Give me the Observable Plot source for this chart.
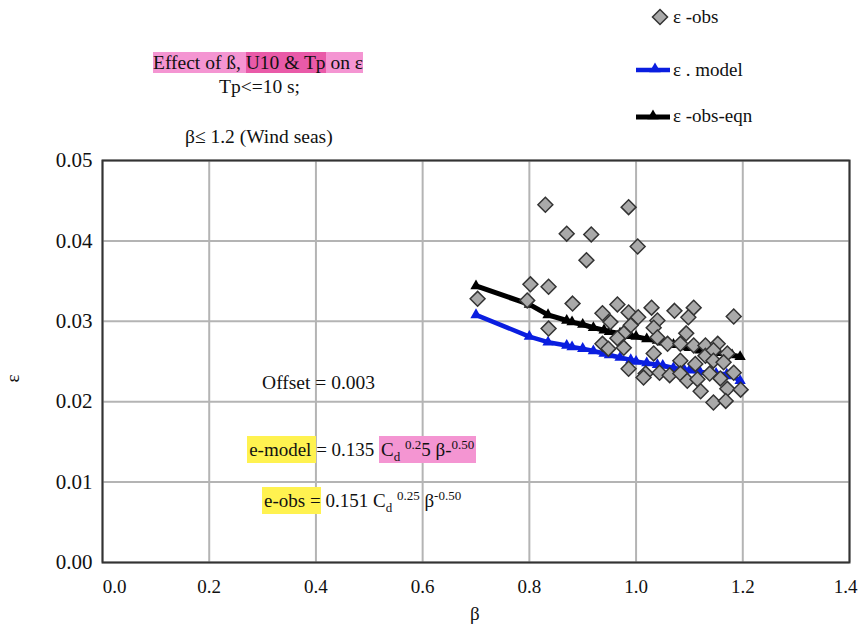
<!DOCTYPE html>
<html>
<head>
<meta charset="utf-8">
<script src="https://cdn.jsdelivr.net/npm/d3@7"></script>
<script src="https://cdn.jsdelivr.net/npm/@observablehq/plot@0.6"></script>
<style>
  html, body { margin: 0; padding: 0; background: #fff; }
  #wrap { position: relative; width: 858px; height: 631px; font-family: "Liberation Serif", "Times New Roman", serif; color: #111; }
  #wrap svg { position: absolute; left: 0; top: 0; }
  .t { position: absolute; white-space: nowrap; font-size: 19.5px; line-height: 22px; }
  .pk { background: #f495d2; }
  .pk2 { background: #e95aa8; }
  .yl { background: #fff250; }
  sub, sup { font-size: 13px; line-height: 0; }
</style>
</head>
<body>
<div id="wrap"></div>
<script>
// ---- data ----
const obsBeta = [0.830,0.986,0.870,0.916,1.003,0.907,0.802,0.836,0.703,0.796,0.881,0.965,1.029,1.072,1.108,1.183,0.937,0.986,1.004,0.952,1.040,1.098,0.836,0.990,1.033,0.977,1.094,0.937,0.965,1.040,0.977,0.948,1.059,1.083,1.108,1.130,1.153,1.033,1.130,1.145,1.171,1.083,1.111,1.145,1.164,0.986,1.018,1.044,1.063,1.083,1.014,1.096,1.138,1.115,1.183,1.158,1.171,1.196,1.121,1.145,1.168];
const obsEps  = [0.0445,0.0442,0.0409,0.0408,0.0393,0.0376,0.0346,0.0343,0.0328,0.0326,0.0322,0.0321,0.0317,0.0313,0.0317,0.0306,0.0310,0.0311,0.0305,0.0299,0.0301,0.0305,0.0291,0.0295,0.0292,0.0285,0.0285,0.0272,0.0279,0.0280,0.0267,0.0266,0.0272,0.0272,0.0270,0.0270,0.0272,0.0260,0.0257,0.0264,0.0260,0.0251,0.0247,0.0251,0.0249,0.0241,0.0235,0.0236,0.0233,0.0235,0.0230,0.0226,0.0235,0.0228,0.0236,0.0229,0.0216,0.0215,0.0213,0.0199,0.0201];

const modelBeta = [0.70,0.80,0.835,0.87,0.88,0.90,0.92,0.94,0.95,0.97,0.99,1.00,1.02,1.04,1.05,1.07,1.09,1.10,1.12,1.14,1.15,1.17,1.18,1.195];
const modelEps  = [0.0308,0.0281,0.0274,0.0270,0.0268,0.0266,0.0263,0.0260,0.0258,0.0255,0.0252,0.0250,0.0248,0.0246,0.0245,0.0242,0.0240,0.0239,0.0237,0.0236,0.0235,0.0234,0.0232,0.0226];

const eqnBeta = [0.70,0.80,0.835,0.87,0.88,0.90,0.92,0.94,0.95,0.97,0.99,1.00,1.02,1.04,1.05,1.07,1.09,1.10,1.12,1.14,1.15,1.17,1.18,1.195];
const eqnEps  = [0.0344,0.0321,0.0308,0.0301,0.0299,0.0296,0.0292,0.0289,0.0287,0.0285,0.0282,0.0281,0.0278,0.0276,0.0274,0.0271,0.0268,0.0267,0.0264,0.0262,0.0261,0.0259,0.0258,0.0256];

const xTicks = [0, 0.2, 0.4, 0.6, 0.8, 1.0, 1.2, 1.4];
const yTicks = [0, 0.01, 0.02, 0.03, 0.04, 0.05];

const obs = obsBeta.map((b, i) => ({b, e: obsEps[i]}));
const model = modelBeta.map((b, i) => ({b, e: modelEps[i]}));
const eqn = eqnBeta.map((b, i) => ({b, e: eqnEps[i]}));

const fmtX = d3.format(".1f");
const chart = Plot.plot({
  width: 858,
  height: 631,
  marginLeft: 102,
  marginRight: 9,
  marginTop: 160,
  marginBottom: 69,
  style: { fontFamily: "Liberation Serif, serif", fontSize: "19px", color: "#111", background: "transparent" },
  x: { domain: [0, 1.4] },
  y: { domain: [0, 0.05] },
  marks: [
    Plot.gridX(xTicks, { stroke: "#b4b4b4", strokeOpacity: 1, strokeWidth: 2 }),
    Plot.gridY(yTicks, { stroke: "#b4b4b4", strokeOpacity: 1, strokeWidth: 2 }),
    Plot.axisX(xTicks.slice(0, 1), { tickSize: 0, tickPadding: 17, tickFormat: fmtX, label: null, fontSize: 19, dx: 12 }),
    Plot.axisX(xTicks.slice(1, -1), { tickSize: 0, tickPadding: 17, tickFormat: fmtX, label: null, fontSize: 19 }),
    Plot.axisX(xTicks.slice(-1), { tickSize: 0, tickPadding: 17, tickFormat: fmtX, label: null, fontSize: 19, dx: -4 }),
    Plot.axisY(yTicks, { tickSize: 0, tickPadding: 10, tickFormat: d3.format(".2f"), label: null, fontSize: 21 }),
    Plot.line(eqn, { x: "b", y: "e", stroke: "#000", strokeWidth: 5 }),
    Plot.dot(eqn, { x: "b", y: "e", symbol: "triangle", r: 4.2, fill: "#000" }),
    Plot.line(model, { x: "b", y: "e", stroke: "#0a1ee0", strokeWidth: 4.5 }),
    Plot.dot(model, { x: "b", y: "e", symbol: "triangle", r: 4.2, fill: "#0a1ee0" }),
    Plot.dot(obs, { x: "b", y: "e", symbol: "diamond2", r: 6.7, fill: "#a9a9a9", stroke: "#333", strokeWidth: 1.5 }),
    Plot.frame({ stroke: "#333", strokeWidth: 2 })
  ]
});

const wrap = document.getElementById("wrap");
wrap.appendChild(chart);

const sx = chart.scale("x"), sy = chart.scale("y");
function addText(html, left, top, extra) {
  const d = document.createElement("div");
  d.className = "t";
  d.innerHTML = html;
  d.style.left = left + "px";
  d.style.top = top + "px";
  if (extra) Object.assign(d.style, extra);
  wrap.appendChild(d);
  return d;
}

// titles
addText('<span class="pk">Effect of ß, </span><span class="pk2">U10 &amp; Tp</span><span class="pk"> on ε</span>', 153, 52);
addText('Tp&lt;=10 s;', 219, 76);
addText('β≤ 1.2 (Wind seas)', 185, 126);

// axis titles
addText('β', 470, 603, { fontSize: "19px" });
addText('ε', 9, 369, { fontSize: "19px", lineHeight: "19px", transform: "rotate(-90deg)" });

// legend
const lg = d3.select(chart).append("g");
lg.append("path").attr("d", d3.symbol(d3.symbolDiamond2, 144)()).attr("transform", "translate(660,17)")
  .attr("fill", "#a9a9a9").attr("stroke", "#333").attr("stroke-width", 1.5);
lg.append("line").attr("x1", 636).attr("x2", 670).attr("y1", 70).attr("y2", 70).attr("stroke", "#0a1ee0").attr("stroke-width", 4.5);
lg.append("path").attr("d", d3.symbol(d3.symbolTriangle, 56)()).attr("transform", "translate(655,69)").attr("fill", "#0a1ee0");
lg.append("line").attr("x1", 636).attr("x2", 670).attr("y1", 117).attr("y2", 117).attr("stroke", "#000").attr("stroke-width", 5);
lg.append("path").attr("d", d3.symbol(d3.symbolTriangle, 56)()).attr("transform", "translate(653,116)").attr("fill", "#000");
addText('ε -obs', 673, 6, { fontSize: "19px" });
addText('ε . model', 673, 59, { fontSize: "19px" });
addText('ε -obs-eqn', 673, 105, { fontSize: "19px" });

// annotations placed via data coordinates
addText('Offset = 0.003', sx.apply(0.30), sy.apply(0.0236), { fontSize: "19.5px" });
addText('<span class="yl" style="padding:3px 0 3px 2px">e-model </span>= 0.135 <span class="pk" style="padding:3px 2px 3px 2px">C<sub>d</sub> <sup>0.2</sup>5 β-<sup>0.50</sup></span>',
  sx.apply(0.272), sy.apply(0.0153), { fontSize: "19px" });
addText('<span class="yl" style="padding:3px 0 3px 2px">e-obs =</span> 0.151 C<sub>d</sub> <sup>0.25</sup> β<sup>-0.50</sup>',
  sx.apply(0.300), sy.apply(0.0090), { fontSize: "19px" });
</script>
</body>
</html>
